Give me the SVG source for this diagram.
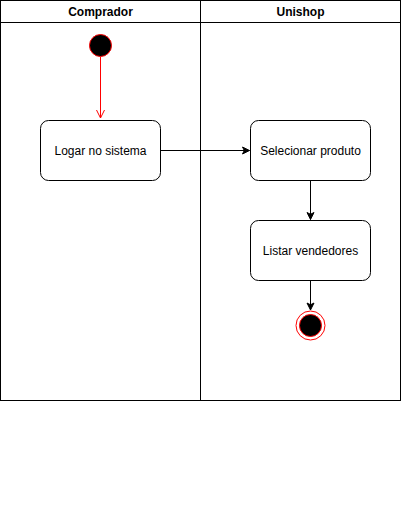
<svg xmlns="http://www.w3.org/2000/svg" width="401" height="511" viewBox="0 0 401 511">
<style>
text{font-family:"Liberation Sans",Arial,sans-serif;font-size:12px;fill:#000;text-anchor:middle}
.hdr{font-weight:bold}
.box{fill:#fff;stroke:#000;stroke-width:1}
.edge{fill:none;stroke:#000;stroke-width:1}
</style>
<defs>
<marker id="arr" markerWidth="10" markerHeight="10" refX="8" refY="5" orient="auto" markerUnits="userSpaceOnUse">
<path d="M1,1.5 L8,5 L1,8.5 L2.8,5 Z" fill="#000" stroke="#000" stroke-width="1"/>
</marker>
<marker id="open" markerWidth="12" markerHeight="12" refX="6" refY="10" orient="0" markerUnits="userSpaceOnUse">
<path d="M2,5 L6,10 L10,5" fill="none" stroke="#ff0000" stroke-width="1"/>
</marker>
</defs>
<rect width="401" height="511" fill="#fff"/>
<g id="pool">
<rect x="0.5" y="0.5" width="400" height="400" fill="none" stroke="#000"/>
<line x1="0.5" y1="22.5" x2="400.5" y2="22.5" stroke="#000"/>
<line x1="200.5" y1="0.5" x2="200.5" y2="400.5" stroke="#000"/>
<text class="hdr" x="100.5" y="16">Comprador</text>
<text class="hdr" x="300.5" y="16">Unishop</text>
</g>
<g id="connectors">
<line x1="100.5" y1="57" x2="100.5" y2="118" stroke="#ff0000" stroke-width="1"/>
<path d="M96.5,110 L100.5,118 L104.5,110" fill="none" stroke="#ff0000"/>
<line class="edge" x1="160.5" y1="150.5" x2="249.5" y2="150.5" marker-end="url(#arr)"/>
<line class="edge" x1="310.5" y1="180.5" x2="310.5" y2="219.5" marker-end="url(#arr)"/>
<line class="edge" x1="310.5" y1="280.5" x2="310.5" y2="310" marker-end="url(#arr)"/>
</g>
<g id="start">
<circle cx="100.5" cy="45.5" r="11" fill="#000" stroke="#ff0000" stroke-width="1"/>
</g>
<g id="logar">
<rect class="box" x="40.5" y="120.5" width="120" height="60" rx="8"/>
<text x="100.5" y="155">Logar no sistema</text>
</g>
<g id="selecionar">
<rect class="box" x="250.5" y="120.5" width="120" height="60" rx="8"/>
<text x="310.5" y="155">Selecionar produto</text>
</g>
<g id="listar">
<rect class="box" x="250.5" y="220.5" width="120" height="60" rx="8"/>
<text x="310.5" y="255">Listar vendedores</text>
</g>
<g id="end">
<circle cx="310.5" cy="325.5" r="14.5" fill="#fff" stroke="#ff0000" stroke-width="1"/>
<circle cx="310.5" cy="325.5" r="11" fill="#000" stroke="#ff0000" stroke-width="1"/>
</g>
</svg>
